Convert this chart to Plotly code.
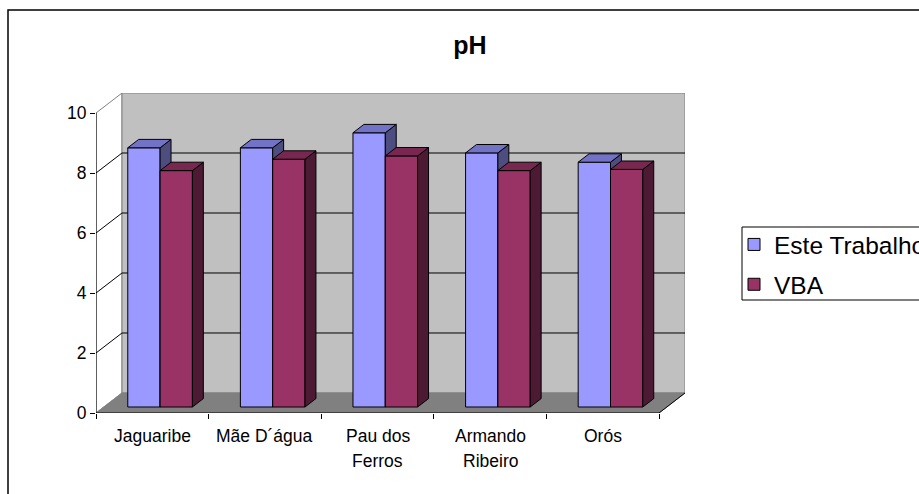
import plotly.graph_objects as go

# ---- data -------------------------------------------------------------
categories = ["Jaguaribe", "Mãe D´água", "Pau dos\nFerros", "Armando\nRibeiro", "Orós"]
series_names = ["Este Trabalho", "VBA"]
este_trabalho = [8.64, 8.64, 9.14, 8.47, 8.16]
vba = [7.88, 8.26, 8.37, 7.88, 7.92]
y_ticks = [0, 2, 4, 6, 8, 10]

# ---- styling / 3-D geometry ------------------------------------------
FONT = "Arial, 'Liberation Sans', sans-serif"
DEPTH_X = 0.2309      # back-wall offset in category units
DEPTH_Y = 0.667       # back-wall offset in value units
BAR_FRONT = 0.30      # fraction of depth where bar front faces sit
BAR_BACK = 0.72       # fraction of depth where bar back faces sit
BAR_W = 0.287         # width of one bar (category units)
Y_MAX = 10

colors = {
    "Este Trabalho": dict(front="#9999FF", top="#7272C6", side="#4D4D80"),
    "VBA": dict(front="#993366", top="#782850", side="#4D1A33"),
}

n = len(categories)
x_pos = list(range(n))
x_lo, x_hi = -0.5, n - 0.5
fx, fy = BAR_FRONT * DEPTH_X, BAR_FRONT * DEPTH_Y
dx, dy = (BAR_BACK - BAR_FRONT) * DEPTH_X, (BAR_BACK - BAR_FRONT) * DEPTH_Y

fig = go.Figure()

series = [(series_names[0], este_trabalho, -BAR_W, "x", "y"),
          (series_names[1], vba, 0.0, "x2", "y2")]

for name, values, offset, xa, ya in series:
    c = colors[name]
    # front faces
    fig.add_trace(go.Bar(
        x=x_pos, y=values, base=fy, offset=offset + fx, width=BAR_W,
        name=name, marker=dict(color=c["front"], line=dict(color="black", width=1)),
        xaxis=xa, yaxis=ya, legendgroup=name,
    ))
    side_x, side_y, top_x, top_y = [], [], [], []
    for xi, v in zip(x_pos, values):
        left = xi + offset + fx
        right = left + BAR_W
        bottom = fy
        top = fy + v
        side_x += [right, right, right + dx, right + dx, right, None]
        side_y += [bottom, top, top + dy, bottom + dy, bottom, None]
        top_x += [left, right, right + dx, left + dx, left, None]
        top_y += [top, top, top + dy, top + dy, top, None]
    for fxs, fys, col in ((side_x, side_y, c["side"]), (top_x, top_y, c["top"])):
        fig.add_trace(go.Scatter(
            x=fxs, y=fys, mode="lines", fill="toself", fillcolor=col,
            line=dict(color="black", width=1), showlegend=False,
            hoverinfo="skip", xaxis=xa, yaxis=ya, legendgroup=name,
        ))

# ---- walls, floor and grid -------------------------------------------
shapes = []
bx0, bx1 = x_lo + DEPTH_X, x_hi + DEPTH_X
# left wall
shapes.append(dict(type="path", layer="below", xref="x", yref="y",
                   path=f"M{x_lo},0 L{x_lo},{Y_MAX} L{bx0},{Y_MAX + DEPTH_Y} L{bx0},{DEPTH_Y} Z",
                   fillcolor="white", line=dict(color="#808080", width=1)))
# back wall
shapes.append(dict(type="rect", layer="below", xref="x", yref="y",
                   x0=bx0, x1=bx1, y0=DEPTH_Y, y1=Y_MAX + DEPTH_Y,
                   fillcolor="#C0C0C0", line=dict(color="#808080", width=1)))
# floor
shapes.append(dict(type="path", layer="below", xref="x", yref="y",
                   path=f"M{x_lo},0 L{bx0},{DEPTH_Y} L{bx1},{DEPTH_Y} L{x_hi},0 Z",
                   fillcolor="#808080", line=dict(color="#808080", width=1)))
for t in y_ticks[1:-1]:
    shapes.append(dict(type="line", layer="below", xref="x", yref="y",
                       x0=bx0, x1=bx1, y0=t + DEPTH_Y, y1=t + DEPTH_Y,
                       line=dict(color="black", width=1)))
    shapes.append(dict(type="line", layer="below", xref="x", yref="y",
                       x0=x_lo, x1=bx0, y0=t, y1=t + DEPTH_Y,
                       line=dict(color="black", width=1)))
# value axis line and floor front edges
shapes.append(dict(type="line", layer="below", xref="x", yref="y",
                   x0=x_lo, x1=x_lo, y0=0, y1=Y_MAX, line=dict(color="black", width=1)))
shapes.append(dict(type="line", layer="below", xref="x", yref="y",
                   x0=x_lo, x1=x_hi, y0=0, y1=0, line=dict(color="black", width=1)))
shapes.append(dict(type="line", layer="below", xref="x", yref="y",
                   x0=x_hi, x1=bx1, y0=0, y1=DEPTH_Y, line=dict(color="black", width=1)))

# page geometry (pixels)
W, H = 919, 494
ML, MR, MT, MB = 96, 234, 93, 81
pw, ph = W - ML - MR, H - MT - MB


def px_x(p):
    return (p - ML) / pw


def px_y(p):
    return (MT + ph - p) / ph


# chart-area border
shapes.append(dict(type="rect", layer="above", xref="paper", yref="paper",
                   x0=px_x(8), x1=px_x(W + 10), y0=px_y(H + 10), y1=px_y(10),
                   line=dict(color="black", width=1.5), fillcolor="rgba(0,0,0,0)"))
# legend frame
shapes.append(dict(type="rect", layer="below", xref="paper", yref="paper",
                   x0=px_x(742), x1=px_x(W + 10), y0=px_y(300), y1=px_y(227),
                   line=dict(color="black", width=1), fillcolor="white"))

# category labels, one annotation per text line
annotations = []
for xi, label in zip(x_pos, categories):
    for i, line in enumerate(label.split("\n")):
        annotations.append(dict(x=xi, y=0, xref="x", yref="y", text=line,
                                showarrow=False, xanchor="center", yanchor="middle",
                                yshift=-23 - 25 * i,
                                font=dict(family=FONT, size=17.5, color="black")))

fig.update_layout(
    width=W, height=H,
    margin=dict(l=ML, r=MR, t=MT, b=MB, autoexpand=False),
    paper_bgcolor="white", plot_bgcolor="rgba(0,0,0,0)",
    barmode="overlay",
    shapes=shapes,
    annotations=annotations,
    font=dict(family=FONT, size=17.5, color="black"),
    title=dict(text="<b>pH</b>", x=470 / W, xref="container", xanchor="center",
               y=1 - 45 / H, yref="container", yanchor="middle",
               font=dict(family=FONT, size=25, color="black")),
    showlegend=True,
    legend=dict(x=px_x(734), xanchor="left", y=px_y(222), yanchor="top",
                borderwidth=0, bgcolor="rgba(0,0,0,0)",
                font=dict(family=FONT, size=24.5, color="black"),
                traceorder="grouped", tracegroupgap=5),
    xaxis=dict(range=[x_lo, x_hi + DEPTH_X], showgrid=False, zeroline=False, showline=False,
               tickmode="array", tickvals=x_pos, showticklabels=False, ticks="",
               minor=dict(ticks="outside", tick0=x_lo, dtick=1, ticklen=5,
                          tickcolor="black", showgrid=False),
               fixedrange=True),
    yaxis=dict(range=[0, Y_MAX + DEPTH_Y], showgrid=False, zeroline=False, showline=False,
               tickmode="array", tickvals=y_ticks, ticks="outside", ticklen=5,
               tickcolor="black", fixedrange=True),
    xaxis2=dict(overlaying="x", matches="x", visible=False),
    yaxis2=dict(overlaying="y", matches="y", visible=False),
)

fig.write_html("out.html")
